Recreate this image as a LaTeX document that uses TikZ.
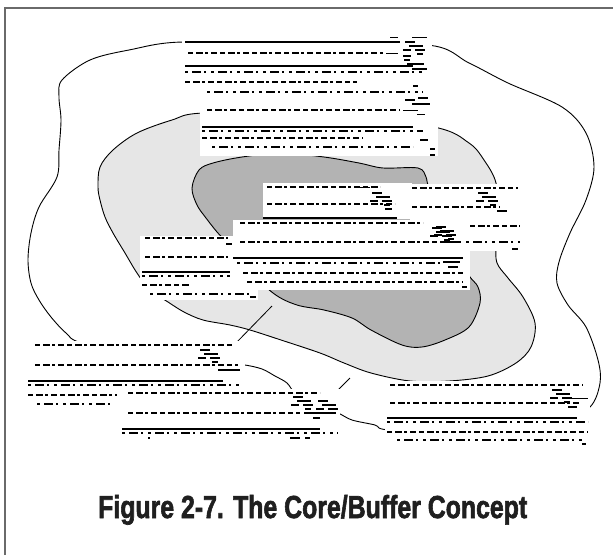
\documentclass[tikz,border=0pt]{standalone}
\usepackage{fontspec}
\newfontfamily\titlefont[FakeBold=2.2]{Liberation Sans}
\definecolor{framegray}{HTML}{6A6A6A}
\definecolor{buffergray}{HTML}{E6E6E6}
\definecolor{coregray}{HTML}{B3B3B3}
\tikzset{
  blobline/.style={draw=black, line width=0.9pt, line join=round},
  tbox/.style={rectangle, fill=white, draw=none, inner sep=0pt, anchor=north west},
  trow/.style={line width=2.6pt, dash pattern=on 5pt off 3pt on 7pt off 2pt on 3pt off 3pt on 6pt off 3pt},
  tthin/.style={line width=1.2pt, dash pattern=on 3pt off 4pt on 9pt off 3pt on 2pt off 5pt},
  trule/.style={line width=1.4pt},
  leader/.style={draw=black, line width=0.8pt},
}
\newcommand\trow[3]{\draw[trow] (#1,#2) -- (#3,#2);}
\newcommand\tthin[3]{\draw[tthin] (#1,#2) -- (#3,#2);}
\newcommand\trule[3]{\draw[trule] (#1,#2) -- (#3,#2);}
\newcommand\clump[2]{%
  \draw[line width=1.2pt] (#1,#2) -- ++(10,0);
  \draw[line width=1.8pt] (#1+4,#2+4) -- ++(14,0);
  \draw[line width=1.2pt] (#1-2,#2+8) -- ++(8,0) (#1+10,#2+8) -- ++(10,0);
  \draw[line width=1.5pt] (#1+12,#2+12) -- ++(6,0);}
\begin{document}
\begin{tikzpicture}[x=1pt,y=-1pt]
\useasboundingbox (0,0) rectangle (613,555);
\fill[white] (0,0) rectangle (613,555);
% frame (top and left edges)
\coordinate (fl) at (5,555);
\coordinate (fc) at (5,8);
\coordinate (fr) at (613,8);
\draw[framegray, line width=2pt] (fl) -- (fc) -- (fr);
% outer zone
\draw[blobline, fill=white] plot[smooth cycle, tension=0.55] coordinates {
 (184,42) (129,50) (90,60) (62,80) (59,97) (61,120) (59,150) (57,177) (39,207)
 (31,233) (28,260) (31,283) (39,300) (51,317) (66,333) (82,343) (150,356) (220,362)
 (245,365) (262,369) (275,376) (287,383) (296,394) (318,406) (338,413) (352,420)
 (375,425) (390,430) (480,432) (560,422) (590,407) (600,383) (598,360) (586,327)
 (568,305) (557,283) (559,262) (570,233) (586,200) (594,167) (586,133) (562,107)
 (508,83) (469,63) (427,45) (300,48)};
% buffer zone
\draw[blobline, fill=buffergray] plot[smooth cycle, tension=0.55] coordinates {
 (203,113) (172,120) (137,133) (113,150) (100,167) (98,187) (100,200) (105,217)
 (113,233) (125,253) (137,273) (150,290) (168,302) (184,312) (203,320) (230,325)
 (250,330) (281,340) (320,353) (344,363) (371,373) (410,381) (449,381) (488,376)
 (516,363) (531,347) (535,323) (523,297) (508,278) (497,263) (496,245) (497,215)
 (496,183) (484,160) (469,143) (434,127) (320,112)};
% core
\draw[blobline, fill=coregray] plot[smooth cycle, tension=0.55] coordinates {
 (199,170) (213,163) (242,157) (281,153) (324,157) (359,163) (383,168) (418,168)
 (426,177) (428,185) (440,220) (460,260) (470,277) (478,287) (480,303) (469,327)
 (445,340) (422,347) (402,345) (371,330) (352,318) (324,310) (297,305) (273,293)
 (240,262) (228,244) (217,232) (206,218) (197,205) (192,188)};
% leader lines
\coordinate (l1a) at (235,344);
\coordinate (l1b) at (272,306);
\coordinate (l2a) at (336,392);
\coordinate (l2b) at (350,378);
\draw[leader] (l1a) -- (l1b);
\draw[leader] (l2a) -- (l2b);
% text boxes
\node[tbox, minimum width=250, minimum height=64] (topA) at (182,36) {};
\node[tbox, minimum width=238, minimum height=57] (topB) at (200,99) {};
\node[tbox, minimum width=112, minimum height=67] (boxB) at (410,184) {};
\node[tbox, minimum width=149, minimum height=36] (boxA) at (263,183) {};
\node[tbox, minimum width=118, minimum height=64] (boxD) at (140,236) {};
\node[tbox, minimum width=237, minimum height=70] (boxC) at (233,220) {};
\node[tbox, minimum width=217, minimum height=66] (boxE) at (28,341) {};
\node[tbox, minimum width=218, minimum height=51] (boxF) at (122,389) {};
\node[tbox, minimum width=205, minimum height=65] (boxG) at (385,381) {};
% garbled text: top box
\draw[line width=1pt] (390,37) -- (398,37) (412,37) -- (427,37);
\trule{185}{42}{400} \clump{405}{42}
\trow{188}{53}{383} \draw[line width=1pt] (386,53) -- (398,53);
\draw[line width=1.6pt] (403,56) -- (411,56) (404,60) -- (410,60);
\trule{185}{66}{413} \draw[line width=1.2pt] (407,64) -- (424,64) (412,69) -- (427,69);
\tthin{185}{72}{423}
\trow{185}{82}{357} \draw[line width=1.6pt] (413,86) -- (418,86);
\tthin{207}{92}{423}
\draw[line width=1.2pt] (405,100) -- (415,100) (418,98) -- (428,98) (412,104) -- (430,104);
\trow{207}{110}{400} \draw[line width=1pt] (403,110) -- (418,110) (417,114) -- (425,114);
\trule{202}{127}{413} \tthin{202}{131}{423}
\trow{202}{138}{363} \draw[line width=1.2pt] (420,140) -- (428,140);
\tthin{212}{147}{413} \draw[line width=1.4pt] (430,149) -- (435,149) (430,155) -- (435,155);
% box B
\trow{412}{188}{518} \clump{478}{193}
\trow{412}{207}{500} \draw[line width=1.4pt] (497,211) -- (507,211);
\trow{470}{226}{520} \clump{432}{228}
\tthin{440}{242}{520} \draw[line width=1.4pt] (512,249) -- (518,249);
% box A
\trow{267}{187}{380} \draw[line width=1pt] (355,187) -- (370,187);
\clump{372}{193}
\trow{267}{204}{395} \draw[line width=1.4pt] (385,209) -- (392,209);
\trule{263}{218}{397}
% box D
\trow{145}{238}{228} \draw[line width=1.5pt] (226,244) -- (232,244);
\trow{145}{257}{228}
\trule{142}{272}{230} \tthin{142}{276}{230}
\trow{142}{285}{190}
\tthin{150}{294}{250} \draw[line width=1.5pt] (250,297) -- (256,297);
% box C
\trow{240}{223}{423} \clump{436}{227}
\trow{240}{242}{463}
\trule{233}{258}{463}
\tthin{237}{263}{440} \draw[line width=1.5pt] (443,262) -- (460,262) (448,267) -- (458,267);
\trow{243}{273}{463}
\trow{247}{282}{463} \draw[line width=1.5pt] (462,287) -- (467,287);
% box E
\trow{35}{345}{233}
\clump{200}{350}
\trow{35}{365}{238} \draw[line width=1.5pt] (218,370) -- (240,370);
\trule{28}{381}{223} \tthin{28}{385}{240}
\trow{28}{395}{117}
\tthin{37}{404}{113}
% box F
\trow{128}{393}{320}
\clump{293}{397} \clump{318}{401}
\trow{128}{413}{300} \draw[line width=1.2pt] (304,413) -- (335,413) (313,418) -- (320,418);
\trule{122}{429}{320} \tthin{122}{433}{338}
\draw[line width=1.4pt] (290,438) -- (300,438) (305,438) -- (310,438) (148,438) -- (150,438);
% box G
\trow{390}{385}{583}
\clump{552}{390} \draw[line width=1pt] (570,398) -- (588,398);
\trow{390}{403}{580} \draw[line width=1.5pt] (568,407) -- (577,407);
\trule{387}{418}{577} \tthin{387}{422}{588}
\trow{387}{432}{588}
\tthin{397}{440}{583} \draw[line width=1.5pt] (582,444) -- (586,444);
% title
\node[anchor=base west, inner sep=0pt, text=black!88] (title) at (98,518)
  {\resizebox{429pt}{1.06\height}{\fontsize{30}{30}\selectfont\titlefont\bfseries Figure 2-7. The Core/Buffer Concept}};
\end{tikzpicture}
\end{document}
